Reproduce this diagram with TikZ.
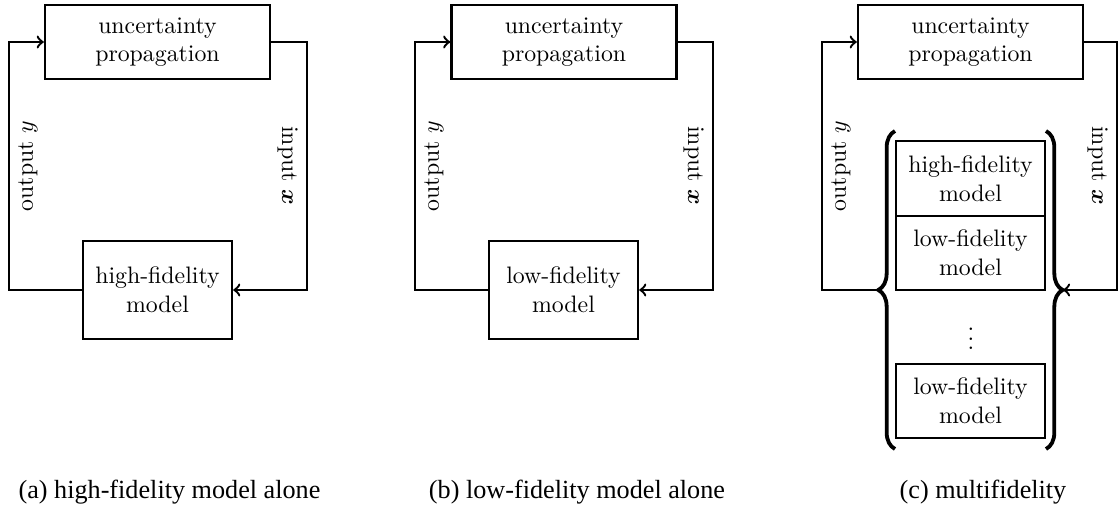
\documentclass[tikz,border=0pt]{standalone}
\usepackage{amsmath}
\usepackage{fontspec}
\newfontfamily\capfont{LiberationSerif-Regular.ttf}
\usetikzlibrary{decorations.pathreplacing}

\begin{document}
\begin{tikzpicture}[scale=0.1476]
	\tikzstyle{block}=[draw, line width=1pt, align=center, inner sep=2pt]
	\tikzstyle{upbox}=[block, minimum width=94.5pt, minimum height=31.1pt]
	\tikzstyle{modelbox}=[block, minimum width=62.6pt, minimum height=41.2pt]
	\tikzstyle{stackbox}=[block, minimum width=62.6pt, minimum height=31.3pt]
	\tikzstyle{loop}=[line width=1pt, ->]
	\tikzstyle{outlabel}=[rotate=90, anchor=north]
	\tikzstyle{inlabel}=[rotate=-90, anchor=north]
	\tikzstyle{bracket}=[line width=1.6pt, decorate, decoration={brace, amplitude=7pt}]
	\tikzstyle{caption}=[font=\capfont\fontsize{11}{13}\selectfont, anchor=base]
	\useasboundingbox (0,0) rectangle (111.9,-51.2);

	% (a) high-fidelity model alone
	\node [upbox] (upa) at (15.75,-4.2) {uncertainty\\propagation};
	\node [modelbox] (hfa) at (15.75,-29) {high-fidelity\\model};
	\coordinate (a-ll) at (0.9,-29);
	\coordinate (a-ul) at (0.9,-4.2);
	\coordinate (a-ur) at (30.7,-4.2);
	\coordinate (a-lr) at (30.7,-29);
	\draw [loop] (hfa.west) -- (a-ll) -- node [outlabel] (outa) {output $y$} (a-ul) -- (upa.west);
	\draw [loop] (upa.east) -- (a-ur) -- node [inlabel] (ina) {input $\boldsymbol{x}$} (a-lr) -- (hfa.east);
	\node [caption] (capa) at (16.95,-49.9) {(a) high-fidelity model alone};

	% (b) low-fidelity model alone
	\node [upbox] (upb) at (56.4,-4.2) {uncertainty\\propagation};
	\node [modelbox] (lfb) at (56.35,-29) {low-fidelity\\model};
	\coordinate (b-ll) at (41.5,-29);
	\coordinate (b-ul) at (41.5,-4.2);
	\coordinate (b-ur) at (71.3,-4.2);
	\coordinate (b-lr) at (71.3,-29);
	\draw [loop] (lfb.west) -- (b-ll) -- node [outlabel] (outb) {output $y$} (b-ul) -- (upb.west);
	\draw [loop] (upb.east) -- (b-ur) -- node [inlabel] (inb) {input $\boldsymbol{x}$} (b-lr) -- (lfb.east);
	\node [caption] (capb) at (57.7,-49.9) {(b) low-fidelity model alone};

	% (c) multifidelity
	\node [upbox] (upc) at (97.05,-4.2) {uncertainty\\propagation};
	\node [stackbox] (hfc) at (97.05,-17.85) {high-fidelity\\model};
	\node [stackbox] (lfc) at (97.05,-25.3) {low-fidelity\\model};
	\node (dotsc) at (97.1,-33.2) {$\vdots$};
	\node [stackbox] (lfc2) at (97.05,-40.1) {low-fidelity\\model};
	\draw [bracket] (89.5,-44.9) -- (89.5,-13.1);
	\draw [bracket] (104.6,-13.1) -- (104.6,-44.9);
	\coordinate (lbrace) at (87.8,-29);
	\coordinate (rbrace) at (106.3,-29);
	\coordinate (c-ll) at (82.2,-29);
	\coordinate (c-ul) at (82.2,-4.2);
	\coordinate (c-ur) at (111.7,-4.2);
	\coordinate (c-lr) at (111.7,-29);
	\draw [loop] (lbrace) -- (c-ll) -- node [outlabel] (outc) {output $y$} (c-ul) -- (upc.west);
	\draw [loop] (upc.east) -- (c-ur) -- node [inlabel] (inc) {input $\boldsymbol{x}$} (c-lr) -- (rbrace);
	\node [caption] (capc) at (98.3,-49.9) {(c) multifidelity};
\end{tikzpicture}
\end{document}
